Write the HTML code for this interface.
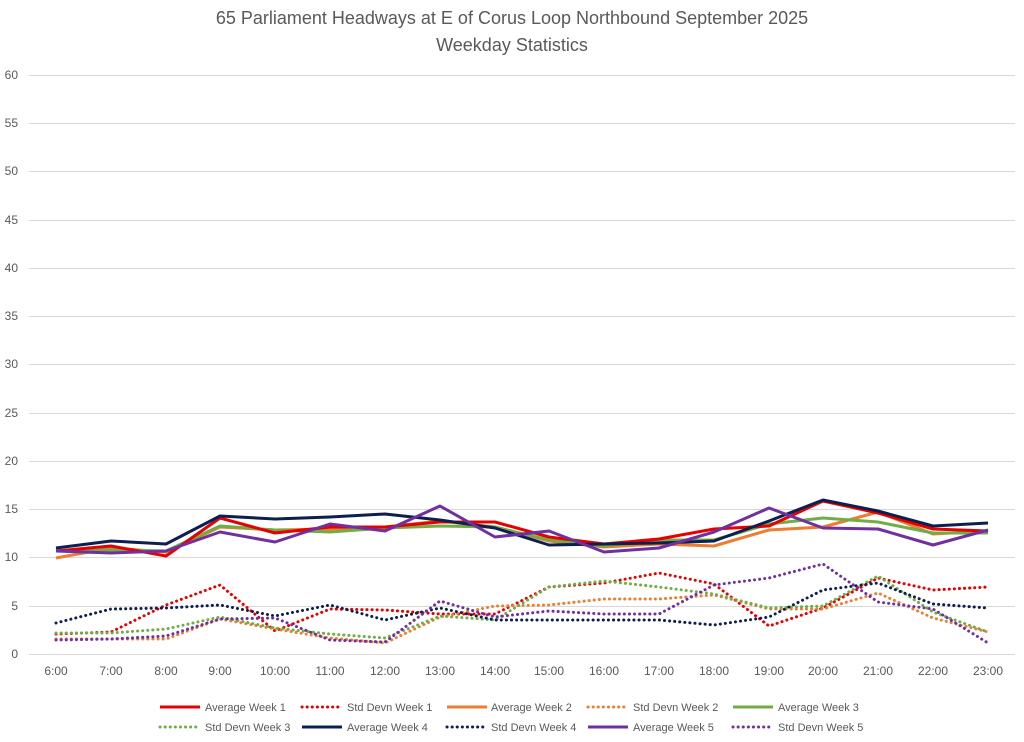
<!DOCTYPE html>
<html><head><meta charset="utf-8"><style>body{margin:0;background:#fff}svg{display:block}</style></head><body>
<svg width="1024" height="742" xmlns="http://www.w3.org/2000/svg" font-family="Liberation Sans, sans-serif">
<rect width="1024" height="742" fill="#fff"/>
<text x="512" y="24" font-size="18" fill="#595959" text-anchor="middle">65 Parliament Headways at E of Corus Loop Northbound September 2025</text>
<text x="512" y="51" font-size="18" fill="#595959" text-anchor="middle">Weekday Statistics</text>
<g stroke="#d9d9d9" stroke-width="1">
<line x1="29" x2="1015" y1="75.5" y2="75.5"/><line x1="29" x2="1015" y1="123.5" y2="123.5"/><line x1="29" x2="1015" y1="171.5" y2="171.5"/><line x1="29" x2="1015" y1="220.5" y2="220.5"/><line x1="29" x2="1015" y1="268.5" y2="268.5"/><line x1="29" x2="1015" y1="316.5" y2="316.5"/><line x1="29" x2="1015" y1="364.5" y2="364.5"/><line x1="29" x2="1015" y1="413.5" y2="413.5"/><line x1="29" x2="1015" y1="461.5" y2="461.5"/><line x1="29" x2="1015" y1="509.5" y2="509.5"/><line x1="29" x2="1015" y1="557.5" y2="557.5"/><line x1="29" x2="1015" y1="606.5" y2="606.5"/><line x1="29" x2="1015" y1="654.5" y2="654.5"/>
</g>
<g font-size="12" fill="#595959" text-anchor="end">
<text x="18" y="79">60</text><text x="18" y="127">55</text><text x="18" y="175">50</text><text x="18" y="224">45</text><text x="18" y="272">40</text><text x="18" y="320">35</text><text x="18" y="368">30</text><text x="18" y="417">25</text><text x="18" y="465">20</text><text x="18" y="513">15</text><text x="18" y="561">10</text><text x="18" y="610">5</text><text x="18" y="658">0</text>
</g>
<g font-size="12" fill="#595959" text-anchor="middle">
<text x="56" y="675">6:00</text><text x="111" y="675">7:00</text><text x="166" y="675">8:00</text><text x="220" y="675">9:00</text><text x="275" y="675">10:00</text><text x="330" y="675">11:00</text><text x="385" y="675">12:00</text><text x="440" y="675">13:00</text><text x="495" y="675">14:00</text><text x="549" y="675">15:00</text><text x="604" y="675">16:00</text><text x="659" y="675">17:00</text><text x="714" y="675">18:00</text><text x="769" y="675">19:00</text><text x="823" y="675">20:00</text><text x="878" y="675">21:00</text><text x="933" y="675">22:00</text><text x="988" y="675">23:00</text>
</g>
<g fill="none" stroke-linejoin="round">
<g stroke-width="3" stroke-dasharray="0.1 5" stroke-linecap="round">
<polyline stroke="#e60000" points="56,634 111,632 166,605 220,585 275,631 330,609 385,610 440,614 495,614 549,587 604,583 659,573 714,584 769,626 823,608 878,578 933,590 988,587"/>
<polyline stroke="#ed7d31" points="56,639 111,639 166,639 220,619 275,629 330,638 385,643 440,617 495,606 549,605 604,599 659,599 714,595 769,609 823,609 878,593 933,618 988,632"/>
<polyline stroke="#70ad47" points="56,633 111,633 166,629 220,617 275,628 330,634 385,638 440,616 495,620 549,587 604,581 659,587 714,594 769,608 823,606 878,576 933,612 988,632"/>
<polyline stroke="#0d1f4f" points="56,623 111,609 166,608 220,605 275,616 330,605 385,620 440,608 495,620 549,620 604,620 659,620 714,625 769,617 823,590 878,583 933,604 988,608"/>
<polyline stroke="#7030a0" points="56,640 111,639 166,636 220,619 275,618 330,640 385,642 440,601 495,617 549,611 604,614 659,614 714,585 769,578 823,564 878,602 933,609 988,643"/>
</g>
<g stroke-width="3">
<polyline stroke="#ed7d31" points="56,558 111,548 166,552 220,527 275,530 330,529 385,527 440,521 495,527 549,541 604,547 659,544 714,546 769,530 823,527 878,512 933,534 988,531"/>
<polyline stroke="#70ad47" points="56,551 111,550 166,551 220,526 275,530 330,532 385,528 440,526 495,527 549,540 604,546 659,540 714,540 769,524 823,518 878,522 933,533 988,533"/>
<polyline stroke="#e60000" points="56,551 111,546 166,556 220,518 275,533 330,527 385,527 440,522 495,522 549,537 604,544 659,539 714,529 769,526 823,501 878,513 933,529 988,531"/>
<polyline stroke="#0d1f4f" points="56,548 111,541 166,544 220,516 275,519 330,517 385,514 440,520 495,528 549,545 604,544 659,543 714,541 769,521 823,500 878,511 933,526 988,523"/>
<polyline stroke="#7030a0" points="56,551 111,553 166,551 220,532 275,542 330,524 385,531 440,506 495,537 549,531 604,552 659,548 714,532 769,508 823,528 878,529 933,545 988,530"/>
</g>
</g>
<g font-size="11" fill="#595959">
<g stroke-width="3">
<line x1="160" x2="200" y1="707" y2="707" stroke="#e60000"/>
<line x1="302" x2="342" y1="707" y2="707" stroke="#e60000" stroke-dasharray="0.1 5" stroke-linecap="round"/>
<line x1="447" x2="487" y1="707" y2="707" stroke="#ed7d31"/>
<line x1="588" x2="628" y1="707" y2="707" stroke="#ed7d31" stroke-dasharray="0.1 5" stroke-linecap="round"/>
<line x1="733" x2="773" y1="707" y2="707" stroke="#70ad47"/>
<line x1="160" x2="200" y1="727" y2="727" stroke="#70ad47" stroke-dasharray="0.1 5" stroke-linecap="round"/>
<line x1="302" x2="342" y1="727" y2="727" stroke="#0d1f4f"/>
<line x1="447" x2="487" y1="727" y2="727" stroke="#0d1f4f" stroke-dasharray="0.1 5" stroke-linecap="round"/>
<line x1="588" x2="628" y1="727" y2="727" stroke="#7030a0"/>
<line x1="733" x2="773" y1="727" y2="727" stroke="#7030a0" stroke-dasharray="0.1 5" stroke-linecap="round"/>
</g>
<text x="205" y="711">Average Week 1</text><text x="347" y="711">Std Devn Week 1</text><text x="491" y="711">Average Week 2</text><text x="633" y="711">Std Devn Week 2</text><text x="778" y="711">Average Week 3</text>
<text x="205" y="731">Std Devn Week 3</text><text x="347" y="731">Average Week 4</text><text x="491" y="731">Std Devn Week 4</text><text x="633" y="731">Average Week 5</text><text x="778" y="731">Std Devn Week 5</text>
</g>
</svg>
</body></html>
